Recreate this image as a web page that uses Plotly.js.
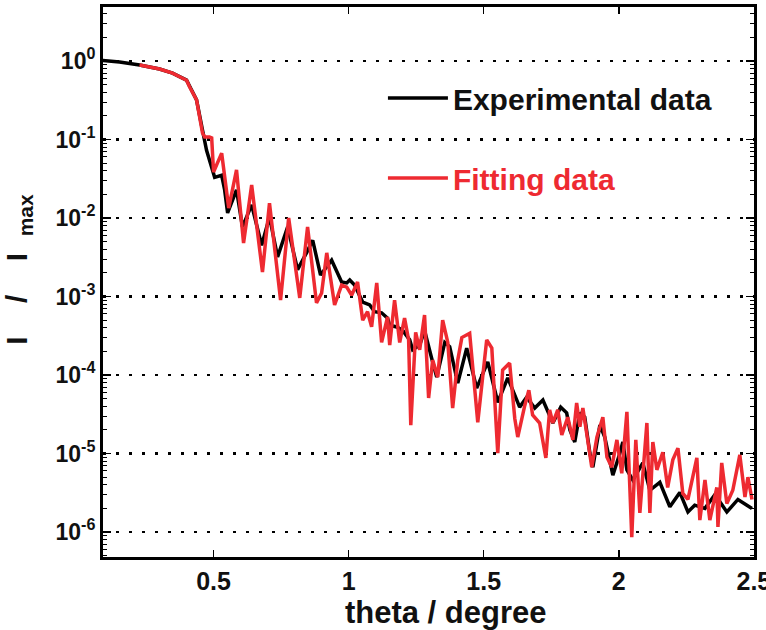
<!DOCTYPE html>
<html>
<head>
<meta charset="utf-8">
<script src="https://cdn.plot.ly/plotly-3.0.1.min.js"></script>
<style>html,body{margin:0;padding:0;background:#fff;}#chart{width:766px;height:630px;}</style>
</head>
<body>
<div id="chart"></div>
<script>
// Experimental data (black)
const expTheta = [
  0.089,0.152,0.226,0.300,0.348,0.400,0.411,0.437,0.459,0.474,
  0.504,0.530,0.541,0.552,0.585,0.607,0.641,0.678,0.707,0.737,
  0.774,0.811,0.844,0.867,0.896,0.937,0.974,0.993,1.004,1.022,
  1.052,1.078,1.096,1.122,1.144,1.152,1.178,1.200,1.226,1.237,
  1.263,1.281,1.307,1.326,1.356,1.374,1.404,1.437,1.474,1.515,
  1.552,1.589,1.633,1.659,1.689,1.719,1.756,1.785,1.807,1.819,
  1.837,1.856,1.874,1.893,1.904,1.930,1.948,1.978,2.004,2.015,
  2.030,2.052,2.089,2.115,2.152,2.189,2.226,2.256,2.281,2.319,
  2.356,2.400,2.441,2.493
];
const expI = [
  1.02,0.97,0.89,0.79,0.70,0.57,0.48,0.32,0.132,0.073,
  0.033,0.035,0.0228,0.0116,0.0228,0.0077,0.0147,0.0045,0.0103,0.0032,
  0.0077,0.0022,0.0036,0.0052,0.00188,0.0029,0.00153,0.00149,0.00162,0.0014,
  8.5e-4,7.8e-4,6.4e-4,6.2e-4,5.3e-4,4.3e-4,4.1e-4,3.7e-4,2.8e-4,2.1e-4,
  2.4e-4,3.7e-4,1.65e-4,9.4e-5,2.6e-4,2.3e-4,7.9e-5,2.2e-4,6.8e-5,1.47e-4,
  4.5e-5,9.2e-5,3.9e-5,5.2e-5,3.8e-5,4.8e-5,2.45e-5,3.9e-5,3.3e-5,2.0e-5,
  1.4e-5,3.3e-5,2.9e-5,1.01e-5,6.7e-6,2.3e-5,1.62e-5,5.3e-6,1.01e-5,1.4e-5,
  6.2e-6,4.6e-6,7.6e-6,3.4e-6,4.3e-6,2.1e-6,3.2e-6,1.8e-6,2.2e-6,2.0e-6,
  3.0e-6,1.8e-6,2.6e-6,2.0e-6
];
// Fitting data (red)
const fitTheta = [
  0.226,0.300,0.348,0.400,0.411,0.437,0.459,0.467,0.485,0.493,
  0.500,0.530,0.556,0.585,0.611,0.641,0.681,0.707,0.748,0.778,
  0.819,0.848,0.881,0.900,0.919,0.948,0.974,0.993,1.011,1.033,
  1.052,1.070,1.085,1.104,1.122,1.144,1.152,1.170,1.189,1.207,
  1.222,1.230,1.248,1.263,1.281,1.296,1.311,1.330,1.348,1.367,
  1.385,1.404,1.419,1.448,1.478,1.511,1.530,1.552,1.570,1.596,
  1.615,1.626,1.652,1.667,1.681,1.707,1.730,1.744,1.756,1.774,
  1.789,1.811,1.830,1.844,1.856,1.867,1.881,1.900,1.919,1.941,
  1.956,1.974,1.993,2.011,2.030,2.048,2.063,2.078,2.104,2.115,
  2.126,2.141,2.163,2.181,2.200,2.219,2.237,2.256,2.289,2.300,
  2.319,2.337,2.363,2.367,2.381,2.400,2.422,2.448,2.467,2.478,
  2.493
];
const fitI = [
  0.89,0.79,0.70,0.57,0.47,0.32,0.121,0.108,0.108,0.105,
  0.0385,0.067,0.0134,0.041,0.0048,0.0263,0.00205,0.0155,9.0e-4,0.0100,
  9.6e-4,0.0077,8.3e-4,1.11e-3,3.6e-3,7.8e-4,1.4e-3,1.32e-3,1.04e-3,1.53e-3,
  5.0e-4,6.4e-4,4.1e-4,1.49e-3,2.6e-4,5.5e-4,2.4e-4,9.0e-4,2.6e-4,5.3e-4,
  2.8e-4,2.3e-5,3.5e-4,2.1e-4,5.8e-4,5.1e-5,1.55e-4,9.4e-5,5.0e-4,2.6e-4,
  3.8e-5,1.55e-4,3.0e-4,3.4e-4,2.5e-5,2.8e-4,2.2e-4,1.01e-5,1.16e-4,1.42e-4,
  2.8e-5,1.62e-5,4.1e-5,6.4e-5,3.1e-5,2.45e-5,8.8e-6,3.6e-5,2.45e-5,3.6e-5,
  1.72e-5,2.9e-5,1.49e-5,4.4e-5,2.2e-5,3.8e-5,1.82e-5,6.7e-6,1.62e-5,2.9e-5,
  9.0e-6,6.7e-6,1.49e-5,5.6e-6,3.4e-5,8.6e-7,1.49e-5,1.75e-6,2.45e-5,1.75e-6,
  1.4e-5,6.2e-6,1.04e-5,3.7e-6,8.3e-6,1.17e-5,3.1e-6,2.6e-6,8.8e-6,1.42e-6,
  4.6e-6,1.42e-6,3.7e-6,1.16e-6,7.6e-6,2.3e-6,3.4e-6,9.6e-6,2.8e-6,5.0e-6,
  2.6e-6
];
const xTickVals = [0.5, 1, 1.5, 2, 2.5];
const xTickText = ['0.5', '1', '1.5', '2', '2.5'];
const yTickVals = [1, 1e-1, 1e-2, 1e-3, 1e-4, 1e-5, 1e-6];
const yTickText = ['10<sup>0</sup>','10<sup>-1</sup>','10<sup>-2</sup>','10<sup>-3</sup>','10<sup>-4</sup>','10<sup>-5</sup>','10<sup>-6</sup>'];

const FONT = 'Liberation Sans, Arial, sans-serif';
const RED = '#ee2a31';
const SP = '\u00a0';
const ZW = '\u200b';

const traces = [
  {x: expTheta, y: expI, type: 'scatter', mode: 'lines', name: 'Experimental data',
   legendgroup: 'a', line: {color: '#000', width: 3.5}},
  {x: fitTheta, y: fitI, type: 'scatter', mode: 'lines',
   name: '<span style="color:' + RED + '">Fitting data</span>',
   legendgroup: 'b', line: {color: RED, width: 3.5}}
];

const layout = {
  width: 766, height: 630,
  margin: {l: 103, r: 12, t: 7, b: 73},
  paper_bgcolor: '#fff', plot_bgcolor: '#fff',
  font: {family: FONT, color: '#000'},
  showlegend: true,
  legend: {x: 0.43, xanchor: 'left', y: 0.882, yanchor: 'top',
           bgcolor: 'rgba(0,0,0,0)', borderwidth: 0,
           font: {family: FONT, size: 30, color: '#111', weight: 'bold'},
           traceorder: 'grouped', tracegroupgap: 38, itemwidth: 60},
  xaxis: {
    range: [0.0907, 2.5005], tickvals: xTickVals, ticktext: xTickText,
    ticks: 'inside', ticklen: 7, tickwidth: 1.5, tickcolor: '#000',
    showline: true, linewidth: 3, linecolor: '#000', mirror: 'ticks',
    showgrid: false, zeroline: false, ticklabeloverflow: 'allow',
    tickfont: {family: FONT, size: 25, color: '#111', weight: 'bold'},
    title: {text: ZW + SP.repeat(4) + 'theta / degree', standoff: 9,
            font: {family: FONT, size: 31, color: '#111', weight: 'bold'}}
  },
  yaxis: {
    type: 'log', range: [-6.318, 0.688], tickvals: yTickVals, ticktext: yTickText,
    ticks: 'inside', ticklen: 8, tickwidth: 1.5, tickcolor: '#000',
    showline: true, linewidth: 3, linecolor: '#000', mirror: 'ticks',
    showgrid: true, gridcolor: '#000', gridwidth: 2.5, griddash: '2.5px,10.5px',
    zeroline: false, ticklabeloverflow: 'allow',
    minor: {ticks: 'inside', ticklen: 4, tickwidth: 1, tickcolor: '#000', dtick: 'D1', showgrid: false},
    tickfont: {family: FONT, size: 23, color: '#111', weight: 'bold'},
    title: {text: ZW + SP.repeat(3) + 'I' + SP.repeat(4) + '/' + SP.repeat(4) + 'I' + SP.repeat(2) + '<sub>max</sub>', standoff: 20,
            font: {family: FONT, size: 30, color: '#111', weight: 'bold'}}
  }
};

Plotly.newPlot('chart', traces, layout, {displayModeBar: false, staticPlot: true});
</script>
</body>
</html>
